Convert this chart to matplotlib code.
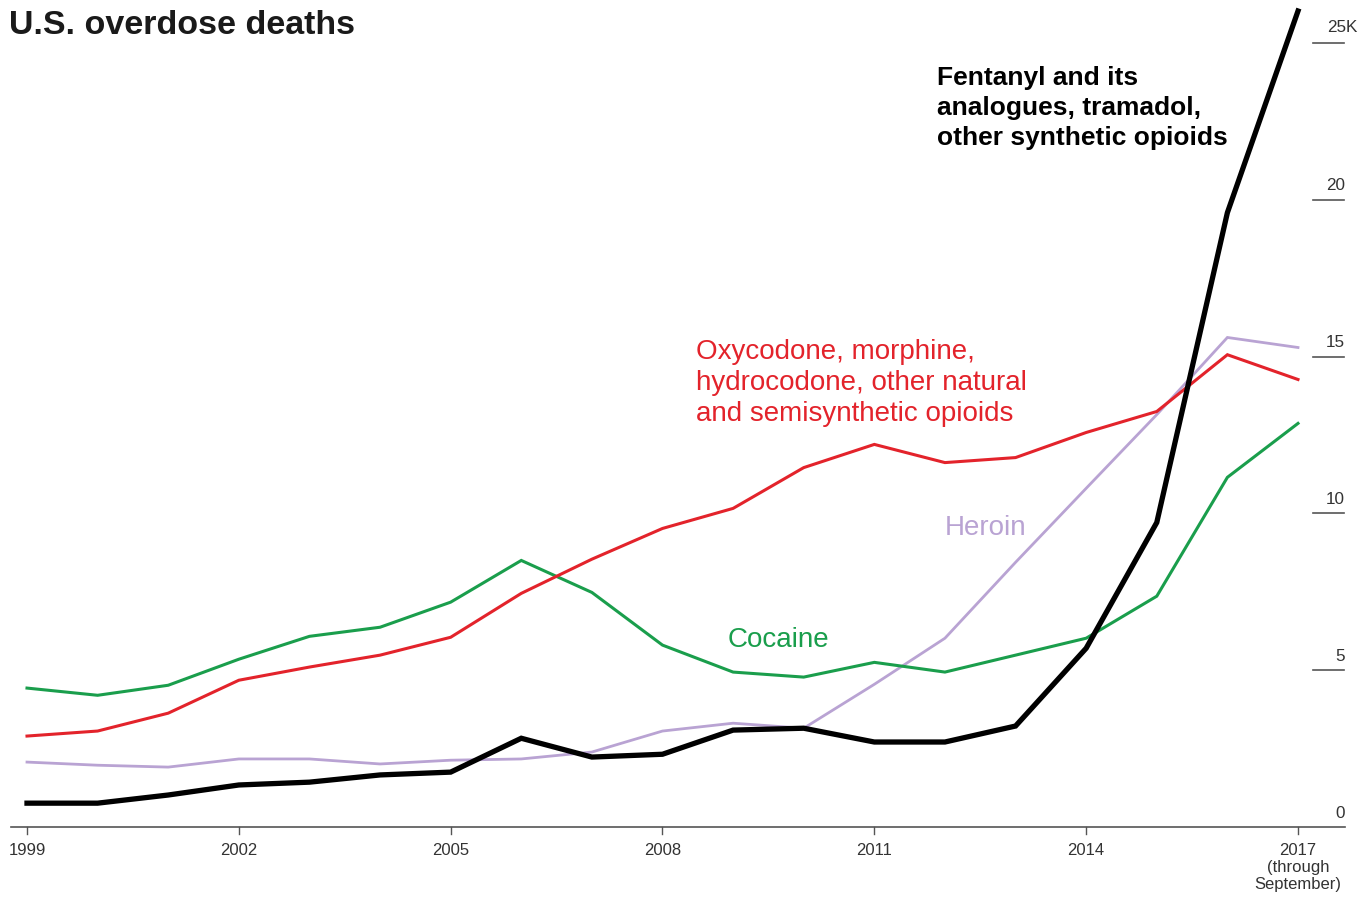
import matplotlib
matplotlib.use("Agg")
import matplotlib.pyplot as plt
from matplotlib.transforms import blended_transform_factory

plt.rcParams['font.family'] = ['Liberation Sans', 'DejaVu Sans']

years = list(range(1999, 2018))
synthetic = [0.76, 0.76, 1.02, 1.34, 1.43, 1.66, 1.75, 2.83, 2.23, 2.32, 3.09, 3.15,
             2.71, 2.71, 3.22, 5.70, 9.71, 19.59, 26.02]
natural = [2.90, 3.06, 3.63, 4.68, 5.10, 5.48, 6.05, 7.45, 8.54, 9.52, 10.16, 11.46,
           12.20, 11.62, 11.78, 12.58, 13.25, 15.06, 14.27]
cocaine = [4.43, 4.20, 4.52, 5.35, 6.08, 6.37, 7.17, 8.50, 7.48, 5.80, 4.94, 4.78,
           5.25, 4.94, 5.48, 6.02, 7.36, 11.15, 12.87]
heroin = [2.07, 1.97, 1.91, 2.17, 2.17, 2.01, 2.13, 2.17, 2.39, 3.06, 3.31, 3.15,
          4.55, 6.02, 8.44, 10.80, 13.15, 15.61, 15.29]

x_ticks = [1999, 2002, 2005, 2008, 2011, 2014, 2017]
x_labels = ['1999', '2002', '2005', '2008', '2011', '2014', '2017\n(through\nSeptember)']
y_ticks = [0, 5, 10, 15, 20, 25]
y_labels = ['0', '5', '10', '15', '20', '25K']

RED = '#e3232b'
GREEN = '#1a9e4c'
PURPLE = '#b9a3d3'
GRAY = '#555555'

W, H = 1363, 897
fig = plt.figure(figsize=(W / 100, H / 100), dpi=100)

def fx(px):
    return px / W

def fy(py):
    return 1 - py / H

# axes: x pixels 11..1345, y pixels 827 (bottom) .. 0 (top)
ax = fig.add_axes([fx(11), fy(827), fx(1345) - fx(11), fy(0) - fy(827)])
px_per_year = (1298 - 27) / 18
px_per_k = 31.36
ax.set_xlim(1999 - (27 - 11) / px_per_year, 2017 + (1345 - 1298) / px_per_year)
ax.set_ylim(0, 827 / px_per_k)
ax.axis('off')

ax.plot(years, heroin, color=PURPLE, lw=2.0, solid_joinstyle='miter', zorder=2, clip_on=False)
ax.plot(years, cocaine, color=GREEN, lw=2.2, solid_joinstyle='miter', zorder=3, clip_on=False)
ax.plot(years, natural, color=RED, lw=2.2, solid_joinstyle='miter', zorder=4, clip_on=False)
ax.plot(years, synthetic, color='black', lw=3.8, solid_joinstyle='miter', zorder=5, clip_on=False)

# x axis line
ax.plot([0, 1], [0, 0], transform=ax.transAxes, color=GRAY, lw=1.2, clip_on=False, zorder=1)
# x ticks
tb = blended_transform_factory(ax.transData, ax.transAxes)
for xt, lab in zip(x_ticks, x_labels):
    ax.plot([xt, xt], [0, -7 / 827], transform=tb, color=GRAY, lw=1.0, clip_on=False)
    ax.text(xt, -16 / 827, lab, transform=tb, ha='center', va='top', fontsize=12,
            color='#333333', linespacing=1.18)

# y ticks on the right: short line with label above
yb = blended_transform_factory(ax.transAxes, ax.transData)
x0 = (1313 - 11) / 1334
x1 = (1344 - 11) / 1334
for yt, lab in zip(y_ticks, y_labels):
    if yt != 0:
        ax.plot([x0, x1], [yt, yt], transform=yb, color=GRAY, lw=1.2, clip_on=False)
    if lab.endswith('K'):
        ax.text((1327 - 11) / 1334, yt + 15 / px_per_k, lab, transform=yb, ha='left',
                va='center', fontsize=12.3, color='#333333')
    else:
        ax.text(1.0, yt + 14 / px_per_k, lab, transform=yb, ha='right', va='center',
                fontsize=12.3, color='#333333')

# title
fig.text(fx(9), fy(25), 'U.S. overdose deaths', ha='left', va='center', fontsize=24.5,
         fontweight='bold', color='#1a1a1a')

# labels
fig.text(fx(937), fy(108), 'Fentanyl and its\nanalogues, tramadol,\nother synthetic opioids',
         ha='left', va='center', fontsize=19, fontweight='bold', color='black', linespacing=1.32)
fig.text(fx(696), fy(383), 'Oxycodone, morphine,\nhydrocodone, other natural\nand semisynthetic opioids',
         ha='left', va='center', fontsize=20, color=RED, linespacing=1.23)
fig.text(fx(986), fy(528), 'Heroin', ha='center', va='center', fontsize=20, color=PURPLE)
fig.text(fx(778), fy(640), 'Cocaine', ha='center', va='center', fontsize=20, color=GREEN)

fig.savefig('out.png', dpi=100)
